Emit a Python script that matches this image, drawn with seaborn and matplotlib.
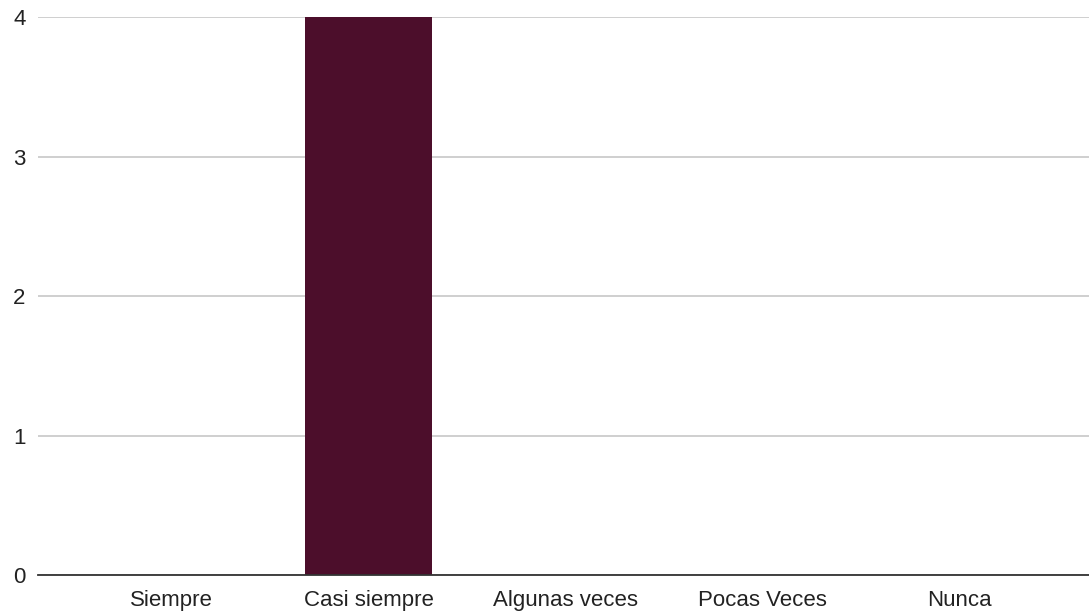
import matplotlib
matplotlib.use("Agg")
import matplotlib.pyplot as plt
import seaborn as sns
import pandas as pd

categories = ['Siempre', 'Casi siempre', 'Algunas veces', 'Pocas Veces', 'Nunca']
counts = [0, 4, 0, 0, 0]

df = pd.DataFrame({'respuesta': categories, 'conteo': counts})

sns.set_style('white')
plt.rcParams['font.family'] = ['Liberation Sans', 'DejaVu Sans']

fig = plt.figure(figsize=(10.89, 6.15), dpi=100)
ax = fig.add_axes([0.035, 0.065, 0.965, 0.907])

sns.barplot(data=df, x='respuesta', y='conteo', color='#4c0e2b',
            width=0.645, saturation=1, ax=ax, zorder=3, linewidth=0)

ax.set_xlim(-0.678, 4.655)
ax.set_ylim(0, 4)
ax.set_yticks([0, 1, 2, 3, 4])
ax.yaxis.grid(True, color='#cccccc', linewidth=1.3, zorder=0)
ax.set_axisbelow(True)
ax.set_xlabel('')
ax.set_ylabel('')
for s in ['top', 'right', 'left']:
    ax.spines[s].set_visible(False)
ax.spines['bottom'].set_color('#333333')
ax.spines['bottom'].set_linewidth(1.3)
ax.spines['bottom'].set_zorder(4)
ax.tick_params(axis='both', length=0, labelsize=16, colors='#222222')
ax.tick_params(axis='y', pad=9)
ax.tick_params(axis='x', pad=11)

fig.savefig('out.png', dpi=100)
